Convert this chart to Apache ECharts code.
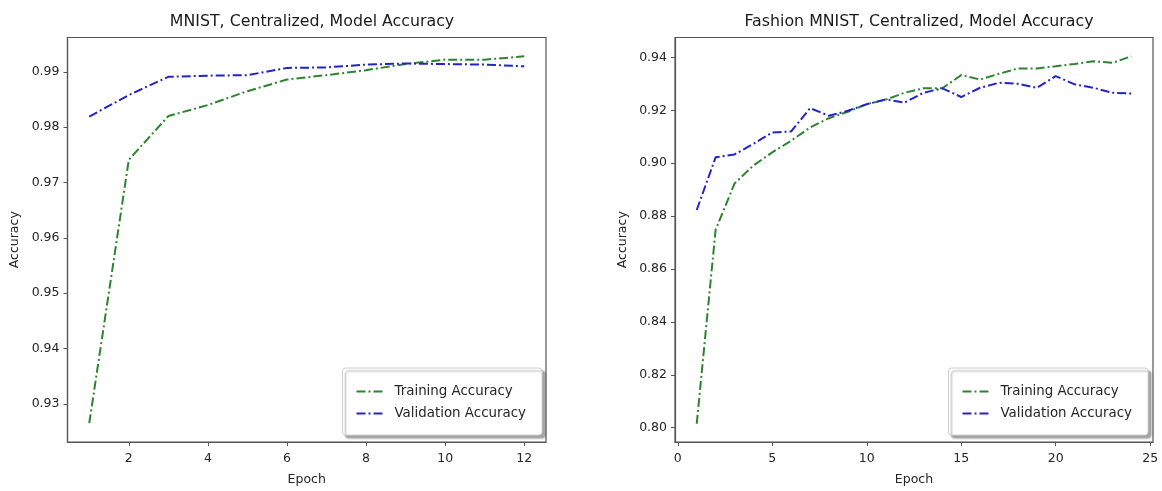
<!DOCTYPE html>
<html>
<head>
<meta charset="utf-8">
<script src="https://cdn.jsdelivr.net/npm/echarts@6/dist/echarts.min.js"></script>
<style>
html,body{margin:0;padding:0;background:#fff;}
#c{width:1162px;height:491px;}
</style>
</head>
<body>
<div id="c"></div>
<script>
// ---- data ----
const mnistEpochs = [1,2,3,4,5,6,7,8,9,10,11,12];
const mnistTrain  = [0.9265,0.9741,0.9820,0.9840,0.9865,0.9886,0.9894,0.9903,0.9914,0.9922,0.9922,0.9928];
const mnistVal    = [0.9819,0.9858,0.9891,0.9893,0.9894,0.9907,0.9908,0.9913,0.9915,0.9914,0.9913,0.9910];

const fashionEpochs = [1,2,3,4,5,6,7,8,9,10,11,12,13,14,15,16,17,18,19,20,21,22,23,24];
const fashionTrain  = [0.8015,0.8748,0.8923,0.8991,0.9041,0.9085,0.9135,0.9170,0.9194,0.9223,0.9240,0.9266,0.9283,0.9283,0.9333,0.9316,0.9338,0.9358,0.9358,0.9366,0.9375,0.9385,0.9379,0.9404];
const fashionVal    = [0.8823,0.9022,0.9033,0.9073,0.9116,0.9120,0.9208,0.9179,0.9198,0.9223,0.9241,0.9229,0.9266,0.9283,0.9250,0.9285,0.9304,0.9300,0.9285,0.9329,0.9298,0.9285,0.9266,0.9263];

const mnistXTicks   = [2,4,6,8,10,12];
const mnistYTicks   = [0.93,0.94,0.95,0.96,0.97,0.98,0.99];
const fashionXTicks = [0,5,10,15,20,25];
const fashionYTicks = [0.80,0.82,0.84,0.86,0.88,0.90,0.92,0.94];

const titles = ['MNIST, Centralized, Model Accuracy','Fashion MNIST, Centralized, Model Accuracy'];
const seriesNames = ['Training Accuracy','Validation Accuracy'];

// ---- styles ----
const FONT = 'DejaVu Sans';
const TXT = '#262626';
const AX = '#555';
const GREEN = '#2e842e';
const BLUE = '#2323cc';
const DASH = [9,3,2,3];

const pairs = (xs, ys) => xs.map((x,i)=>[x, ys[i]]);

function xAxis(gi, min, max, ticks){
  return {
    type:'value', gridIndex:gi, min:min, max:max,
    name:'Epoch', nameLocation:'middle', nameGap:31,
    nameTextStyle:{fontFamily:FONT,fontSize:12.5,color:TXT},
    axisLine:{show:true,onZero:false,lineStyle:{color:AX,width:1.2}},
    axisTick:{show:true,inside:false,length:4,customValues:ticks,lineStyle:{color:AX}},
    axisLabel:{customValues:ticks,fontFamily:FONT,fontSize:12.5,color:TXT,margin:10,
      formatter:v=>String(Math.round(v))},
    splitLine:{show:false}
  };
}
function yAxis(gi, min, max, ticks){
  return {
    type:'value', gridIndex:gi, min:min, max:max,
    name:'Accuracy', nameLocation:'middle', nameGap:46, nameRotate:90,
    nameTextStyle:{fontFamily:FONT,fontSize:12.5,color:TXT},
    axisLine:{show:true,onZero:false,lineStyle:{color:AX,width:1.2}},
    axisTick:{show:true,inside:false,length:4,customValues:ticks,lineStyle:{color:AX}},
    axisLabel:{customValues:ticks,fontFamily:FONT,fontSize:12.5,color:TXT,margin:8,
      formatter:v=>v.toFixed(2)},
    splitLine:{show:false}
  };
}
function line(name, gi, data, color){
  return {
    type:'line', name:name, xAxisIndex:gi, yAxisIndex:gi,
    data:data, symbol:'none', smooth:false, animation:false,
    lineStyle:{color:color,width:2,type:DASH},
    itemStyle:{color:color}
  };
}
function legend(right){
  return {
    orient:'vertical', right:right, bottom:56,
    data:seriesNames,
    itemWidth:28, itemHeight:10, itemGap:9,
    padding:[17,16,15,13],
    backgroundColor:'#fff', borderColor:'#d0d0d0', borderWidth:1, borderRadius:3,
    shadowColor:'rgba(0,0,0,0.35)', shadowBlur:2, shadowOffsetX:3, shadowOffsetY:3,
    itemStyle:{opacity:0},
    lineStyle:{width:2, type:DASH},
    textStyle:{fontFamily:FONT,fontSize:13.4,color:TXT,padding:[0,0,0,5]},
    selectedMode:false
  };
}

const chart = echarts.init(document.getElementById('c'), null, {renderer:'canvas'});
chart.setOption({
  animation:false,
  backgroundColor:'#fff',
  title:[
    {text:titles[0], left:307, top:9, textAlign:'center',
     textStyle:{fontFamily:FONT,fontSize:15.8,fontWeight:'normal',color:'#1a1a1a'}},
    {text:titles[1], left:914, top:9, textAlign:'center',
     textStyle:{fontFamily:FONT,fontSize:15.8,fontWeight:'normal',color:'#1a1a1a'}}
  ],
  grid:[
    {left:67.5, right:616, top:37.5, bottom:47.5, show:true, borderColor:AX, borderWidth:1.2, containLabel:false},
    {left:675, right:9, top:37.5, bottom:47.5, show:true, borderColor:AX, borderWidth:1.2, containLabel:false}
  ],
  xAxis:[ xAxis(0, 0.45, 12.55, mnistXTicks), xAxis(1, -0.15, 25.15, fashionXTicks) ],
  yAxis:[ yAxis(0, 0.9231, 0.9962, mnistYTicks), yAxis(1, 0.7946, 0.9475, fashionYTicks) ],
  legend:[ legend(620), legend(14) ],
  series:[
    line(seriesNames[0], 0, pairs(mnistEpochs, mnistTrain), GREEN),
    line(seriesNames[1], 0, pairs(mnistEpochs, mnistVal), BLUE),
    line(seriesNames[0], 1, pairs(fashionEpochs, fashionTrain), GREEN),
    line(seriesNames[1], 1, pairs(fashionEpochs, fashionVal), BLUE)
  ]
});
</script>
</body>
</html>
